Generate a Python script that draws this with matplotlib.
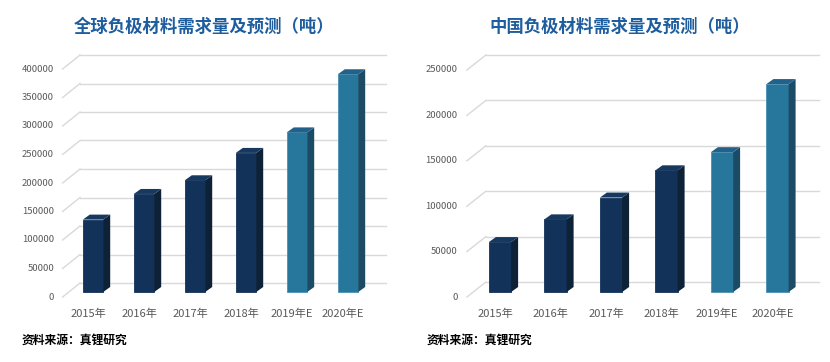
import numpy as np
import matplotlib.pyplot as plt
from matplotlib.patches import Polygon
from matplotlib.transforms import IdentityTransform

plt.rcParams['font.family'] = ['Noto Sans CJK SC', 'DejaVu Sans']

# data
years = ['2015年', '2016年', '2017年', '2018年', '2019年E', '2020年E']
global_demand = [127000, 172000, 196000, 244000, 280000, 382000]
china_demand = [55000, 80000, 104000, 134000, 154000, 229000]
global_ticks = np.arange(0, 400001, 50000)
china_ticks = np.arange(0, 250001, 50000)
is_forecast = [False, False, False, False, True, True]

DPI = 100
fig = plt.figure(figsize=(8.3, 3.62), dpi=DPI)

# (front, side, top) colours
dark = ('#13325A', '#0D2137', '#17395F')
light = ('#27769B', '#1C4C65', '#22628A')
grid_c = '#D9D9D9'
text_c = '#595959'
px = IdentityTransform()


def panel(rect, values, ticks, title, title_x, wall_up):
    ax = fig.add_axes(rect)
    ax.set_xlim(-0.5, len(values) - 0.5)
    ax.set_ylim(0, ticks[-1])
    ax.axis('off')
    bb = ax.bbox
    w = bb.width

    # back wall gridlines, floor diagonals and tick labels
    for t in ticks:
        y = ax.transData.transform((0, t))[1]
        ax.plot([bb.x0 + 0.041 * w, bb.x0 + 1.041 * w], [y + wall_up, y + wall_up],
                color=grid_c, lw=1.0, transform=px, clip_on=False, zorder=1)
        ax.plot([bb.x0 - 0.016 * w, bb.x0 + 0.041 * w], [y - 5, y + wall_up],
                color=grid_c, lw=1.0, transform=px, clip_on=False, zorder=1)
        ax.text(bb.x0 - 0.044 * w, y - 5, str(t), ha='right', va='center',
                fontsize=6.8, color=text_c, transform=px)

    # 3d-looking bars
    bw = 0.4
    dx, dy = 7, 5
    for i, v in enumerate(values):
        front, side, top = light if is_forecast[i] else dark
        ax.bar(i, v, width=bw, color=front, edgecolor='#4B90B4' if is_forecast[i] else front,
               lw=0.6, clip_on=False, zorder=3)
        xl, yb = ax.transData.transform((i - bw / 2, 0))
        xr, yt = ax.transData.transform((i + bw / 2, v))
        ax.add_patch(Polygon([(xr, yb), (xr, yt), (xr + dx, yt + dy), (xr + dx, yb + dy)],
                             closed=True, fc=side, ec='none', transform=px,
                             clip_on=False, zorder=3))
        ax.add_patch(Polygon([(xl, yt), (xr, yt), (xr + dx, yt + dy), (xl + dx, yt + dy)],
                             closed=True, fc=top, ec='none', transform=px,
                             clip_on=False, zorder=3))
        ax.text((xl + xr) / 2 - 5, yb - 22, years[i], ha='center', va='center',
                fontsize=8, color=text_c, transform=px)

    fig.text(title_x / 830, 1 - 27 / 362, title, ha='center', va='center',
             fontsize=12.5, fontweight='bold', color='#1F5E9E')
    return ax


panel([67.5 / 830, 70 / 362, 306 / 830, 228 / 362], global_demand, global_ticks,
      '全球负极材料需求量及预测（吨）', 204, 9)
panel([472.25 / 830, 70 / 362, 333 / 830, 227 / 362], china_demand, china_ticks,
      '中国负极材料需求量及预测（吨）', 620, 10)

for sx in (22, 427):
    fig.text(sx / 830, 1 - 340 / 362, '资料来源：真锂研究', ha='left', va='center',
             fontsize=8.5, fontweight='bold', style='italic', color='black')

plt.savefig('out.png', dpi=DPI)
